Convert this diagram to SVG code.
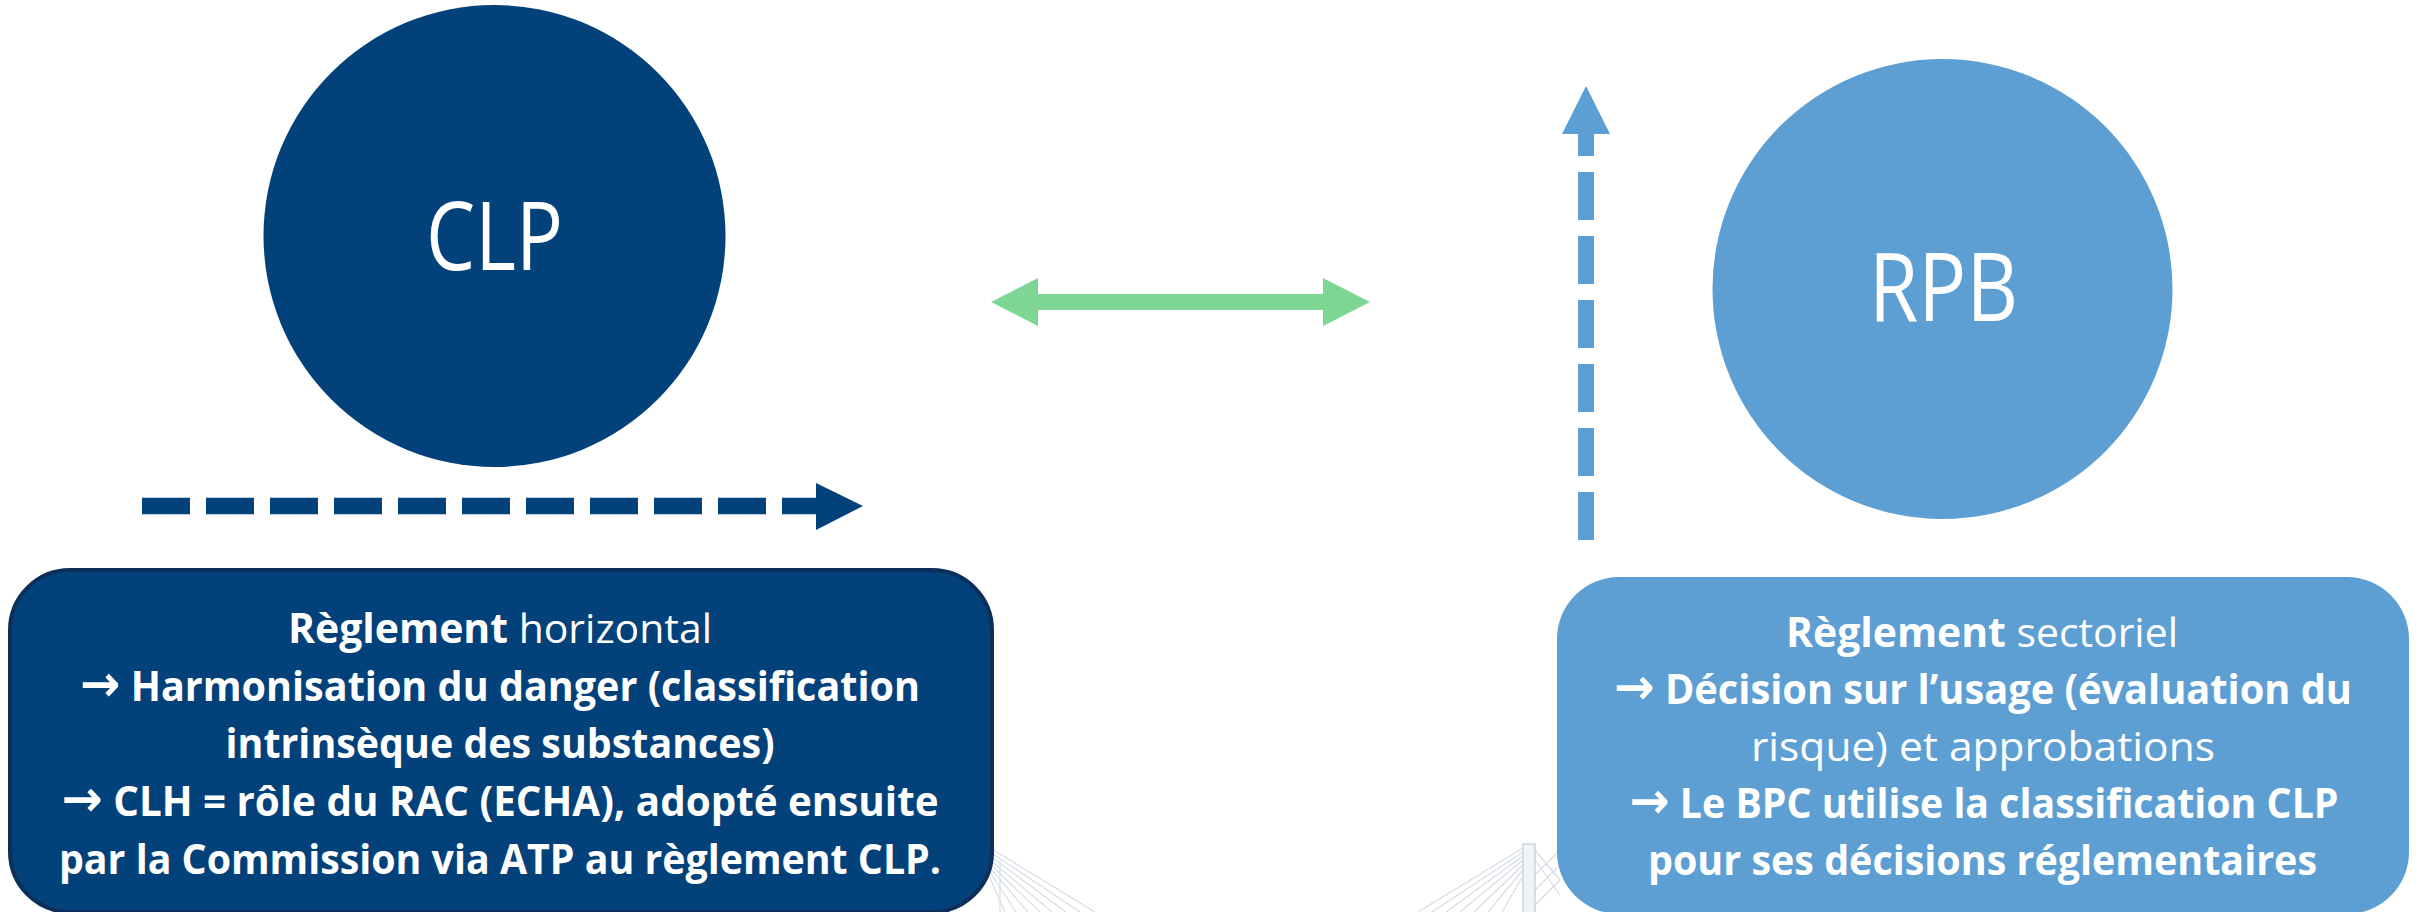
<svg xmlns="http://www.w3.org/2000/svg" width="2419" height="912" viewBox="0 0 2419 912">
  <style>
    .bg { fill: #ffffff; }
    .cable { stroke: #D6DDE5; stroke-width: 1.2; fill: none; }
    .pylon { fill: #F1F4F7; stroke: #CDD5DE; stroke-width: 1.5; }
    .title { font-family: "Open Sans", "Liberation Sans", sans-serif; font-size: 96px; font-weight: 500; fill: #ffffff; text-anchor: middle; }
    .body { font-family: "Open Sans", "DejaVu Sans", "Liberation Sans", sans-serif; font-size: 41px; fill: #ffffff; text-anchor: middle; font-weight: 700; }
    .reg { font-weight: 400; }
    .arr { font-family: "DejaVu Sans", sans-serif; font-size: 50px; font-weight: 700; }
    .dark { fill: #03417A; }
    .light { fill: #5E9FD3; }
    .green { fill: #7ED694; }
  </style>

  <rect class="bg" x="0" y="0" width="2419" height="912"/>

  <g id="background-bridge">
    <line class="cable" x1="990" y1="848" x2="1095" y2="912"/>
    <line class="cable" x1="990" y1="852" x2="1080" y2="912"/>
    <line class="cable" x1="990" y1="856" x2="1066" y2="912"/>
    <line class="cable" x1="990" y1="860" x2="1052" y2="912"/>
    <line class="cable" x1="990" y1="864" x2="1040" y2="912"/>
    <line class="cable" x1="990" y1="868" x2="1028" y2="912"/>
    <line class="cable" x1="990" y1="872" x2="1016" y2="912"/>
    <line class="cable" x1="990" y1="878" x2="1005" y2="912"/>
    <line class="cable" x1="1000" y1="860" x2="1000" y2="912"/>
    <line class="cable" x1="1523" y1="848" x2="1418" y2="912"/>
    <line class="cable" x1="1523" y1="852" x2="1432" y2="912"/>
    <line class="cable" x1="1523" y1="856" x2="1446" y2="912"/>
    <line class="cable" x1="1523" y1="860" x2="1460" y2="912"/>
    <line class="cable" x1="1523" y1="865" x2="1474" y2="912"/>
    <line class="cable" x1="1523" y1="870" x2="1488" y2="912"/>
    <line class="cable" x1="1523" y1="876" x2="1502" y2="912"/>
    <line class="cable" x1="1535" y1="850" x2="1560" y2="880"/>
    <line class="cable" x1="1535" y1="860" x2="1560" y2="895"/>
    <line class="cable" x1="1535" y1="875" x2="1560" y2="850"/>
    <line class="cable" x1="1535" y1="890" x2="1560" y2="865"/>
    <line class="cable" x1="1535" y1="905" x2="1560" y2="880"/>
    <rect class="pylon" x="1523" y="844" width="12" height="70"/>
  </g>

  <g id="node-clp">
    <circle class="dark" cx="494.5" cy="236" r="231"/>
    <text class="title" x="494.5" y="270" textLength="137" lengthAdjust="spacingAndGlyphs">CLP</text>
  </g>

  <g id="node-rpb">
    <circle class="light" cx="1942.5" cy="289" r="230"/>
    <text class="title" x="1943.5" y="321" textLength="149" lengthAdjust="spacingAndGlyphs">RPB</text>
  </g>

  <g id="node-clp-box">
    <rect x="10" y="570" width="982" height="342" rx="60" ry="60" fill="#03417A" stroke="#0B2F58" stroke-width="4"/>
    <text class="body" x="500" y="643" textLength="424" lengthAdjust="spacingAndGlyphs">Règlement <tspan class="reg">horizontal</tspan></text>
    <text class="body" x="500" y="701" textLength="840" lengthAdjust="spacingAndGlyphs"><tspan class="arr">→</tspan> Harmonisation du danger (classification</text>
    <text class="body" x="500" y="758" textLength="549" lengthAdjust="spacingAndGlyphs">intrinsèque des substances)</text>
    <text class="body" x="500" y="816" textLength="877" lengthAdjust="spacingAndGlyphs"><tspan class="arr">→</tspan> CLH = rôle du RAC (ECHA), adopté ensuite</text>
    <text class="body" x="500" y="874" textLength="882" lengthAdjust="spacingAndGlyphs">par la Commission via ATP au règlement CLP.</text>
  </g>

  <g id="node-rpb-box">
    <rect x="1557" y="577" width="852" height="337" rx="62" ry="62" fill="#5E9FD3"/>
    <text class="body" x="1982" y="647" textLength="392" lengthAdjust="spacingAndGlyphs">Règlement <tspan class="reg">sectoriel</tspan></text>
    <text class="body" x="1983" y="704" textLength="738" lengthAdjust="spacingAndGlyphs"><tspan class="arr">→</tspan> Décision sur l’usage (évaluation du</text>
    <text class="body reg" x="1983" y="761" textLength="464" lengthAdjust="spacingAndGlyphs">risque) et approbations</text>
    <text class="body" x="1984" y="818" textLength="709" lengthAdjust="spacingAndGlyphs"><tspan class="arr">→</tspan> Le BPC utilise la classification CLP</text>
    <text class="body" x="1982.5" y="875" textLength="669" lengthAdjust="spacingAndGlyphs">pour ses décisions réglementaires</text>
  </g>

  <g id="connectors">
    <line x1="142" y1="506" x2="817" y2="506" stroke="#03417A" stroke-width="16.5" stroke-dasharray="48 16"/>
    <polygon class="dark" points="816,483 863,506 816,530"/>
    <polygon class="green" points="991,302 1038,278 1038,294 1323,294 1323,278 1370,302 1323,326 1323,310 1038,310 1038,326"/>
    <line x1="1586" y1="540" x2="1586" y2="133" stroke="#5E9FD3" stroke-width="16" stroke-dasharray="48 16"/>
    <polygon class="light" points="1562,134 1586,86 1610,134"/>
  </g>
</svg>
